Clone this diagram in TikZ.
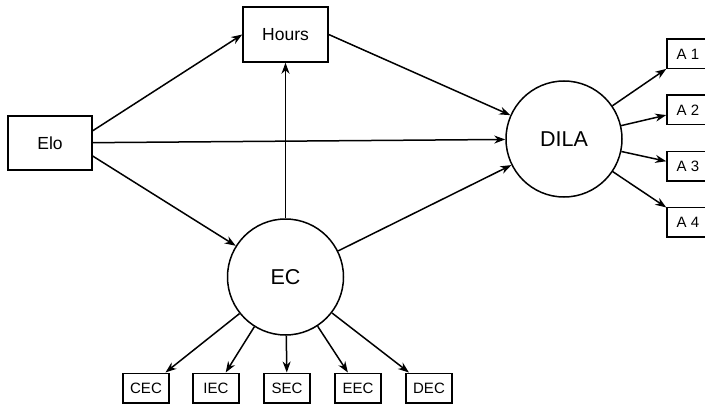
\documentclass[tikz,border=0pt]{standalone}
\usepackage{fontspec}
\setmainfont{Liberation Sans}
\usetikzlibrary{positioning, arrows.meta}

\begin{document}
\begin{tikzpicture}[
        x=1pt, y=-1pt,
        line width=1.5pt,
        box/.style={draw, minimum width=84pt, minimum height=54pt, inner sep=0pt, font=\fontsize{17.5}{20}\selectfont},
        ind/.style={draw, minimum width=#1, minimum height=29.5pt, inner sep=0pt, font=\fontsize{15}{17}\selectfont},
        ind/.default=46pt,
        lat/.style={draw, circle, minimum size=116pt, inner sep=0pt, font=\fontsize{21.5}{24}\selectfont},
        conn/.style={-{Stealth[length=11pt, width=8pt, inset=3.5pt]}},
    ]
    \useasboundingbox (0,0) rectangle (705,404);

    % Observed variables
    \node[box] (elo) at (50,143) {Elo};
    \node[box, minimum width=85pt, minimum height=55pt] (hours) at (285.5,34.5) {Hours};

    % Latent variables
    \node[lat] (ec) at (285.5,277) {EC};
    \node[lat] (dila) at (564,139) {DILA};

    % DILA indicators
    \node[ind=42pt] (a1) at (688,54) {A 1};
    \node[ind=42pt, below=25pt of a1] (a2) {A 2};
    \node[ind=42pt, below=25pt of a2] (a3) {A 3};
    \node[ind=42pt, below=25pt of a3] (a4) {A 4};

    % EC indicators
    \node[ind] (cec) at (146,388) {CEC};
    \node[ind] (iec) at (216,388) {IEC};
    \node[ind] (sec) at (287,388) {SEC};
    \node[ind] (eec) at (358,388) {EEC};
    \node[ind] (dec) at (429,388) {DEC};

    % Paths
    \draw[conn] (elo.16) -- (hours.west);
    \draw[conn] (elo) -- (dila);
    \draw[conn] (elo.-17) -- (ec);
    \draw[conn] (hours.east) -- (dila);
    \draw[conn] (ec) -- (hours);
    \draw[conn] (ec) -- (dila);

    % Loadings
    \draw[conn] (dila) -- (a1);
    \draw[conn] (dila) -- (a2);
    \draw[conn] (dila) -- (a3);
    \draw[conn] (dila) -- (a4);
    \draw[conn] (ec) -- (cec);
    \draw[conn] (ec) -- (iec);
    \draw[conn] (ec) -- (sec);
    \draw[conn] (ec) -- (eec);
    \draw[conn] (ec) -- (dec);
\end{tikzpicture}
\end{document}
